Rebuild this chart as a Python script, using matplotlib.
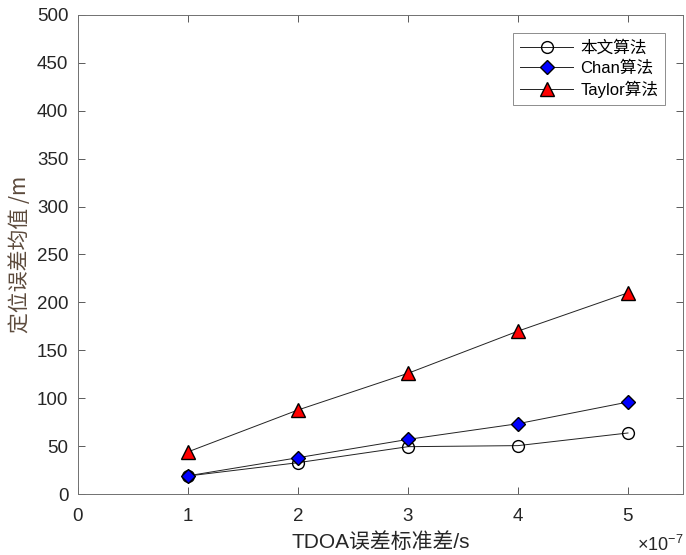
import matplotlib
matplotlib.use("Agg")
import matplotlib.pyplot as plt
from matplotlib.ticker import ScalarFormatter

plt.rcParams['font.family'] = ['Liberation Sans', 'Noto Sans CJK SC', 'DejaVu Sans']
plt.rcParams['axes.unicode_minus'] = False
plt.rcParams['mathtext.fontset'] = 'custom'
plt.rcParams['mathtext.rm'] = 'Liberation Sans'

x = [1e-7, 2e-7, 3e-7, 4e-7, 5e-7]
proposed = [18.8, 32.7, 49.4, 50.5, 63.7]
chan = [19.0, 37.9, 57.0, 73.4, 96.0]
taylor = [44.0, 87.7, 126.0, 170.0, 210.0]
labels = ['本文算法', 'Chan算法', 'Taylor算法']

fig = plt.figure(figsize=(6.86, 5.55), dpi=100)
ax = fig.add_axes([0.1137, 0.1099, 0.8819, 0.8631])

ax.plot(x, proposed, color='#222222', lw=0.7, marker='o', ms=8.5, mfc='none',
        mec='black', mew=1.0, label=labels[0])
ax.plot(x, chan, color='#222222', lw=0.7, marker='D', ms=7.5, mfc='blue',
        mec='black', mew=1.0, label=labels[1])
ax.plot(x, taylor, color='#222222', lw=0.7, marker='^', ms=10, mfc='red',
        mec='black', mew=1.0, label=labels[2])

ax.set_xlim(0, 5.5e-7)
ax.set_ylim(0, 500)
ax.set_xticks([0, 1e-7, 2e-7, 3e-7, 4e-7, 5e-7])
ax.set_yticks(range(0, 501, 50))

fmt = ScalarFormatter(useMathText=True)
fmt.set_powerlimits((0, 0))
ax.xaxis.set_major_formatter(fmt)
ax.xaxis.get_offset_text().set_visible(False)
ax.text(1.0, -0.12, r'$\times$10$^{-7}$', transform=ax.transAxes, ha='right', va='baseline',
        fontsize=13, color='#262626')

ax.tick_params(direction='in', length=5, width=0.6, top=True, right=True,
               labelsize=13.5, labelcolor='#262626', color='#404040')
ax.tick_params(axis='x', pad=10)
ax.tick_params(axis='y', pad=7)
for s in ax.spines.values():
    s.set_linewidth(0.7)
    s.set_color('#707070')

ax.set_xlabel('TDOA误差标准差/s', fontsize=15, color='#262626', labelpad=5)
ax.set_ylabel('定位误差均值 /m', fontsize=15, color='#5c4a3c',
              family=['Noto Sans CJK SC', 'Liberation Sans'], labelpad=4)

leg = ax.legend(loc='upper right', bbox_to_anchor=(0.970, 0.962), borderaxespad=0,
                frameon=True, fancybox=False, edgecolor='#707070', handlelength=3.2,
                borderpad=0.4, labelspacing=0.3, handletextpad=0.4,
                prop={'family': ['Liberation Sans', 'Noto Sans CJK SC'], 'size': 12})
leg.get_frame().set_linewidth(0.7)

fig.savefig('out.png', dpi=100)
